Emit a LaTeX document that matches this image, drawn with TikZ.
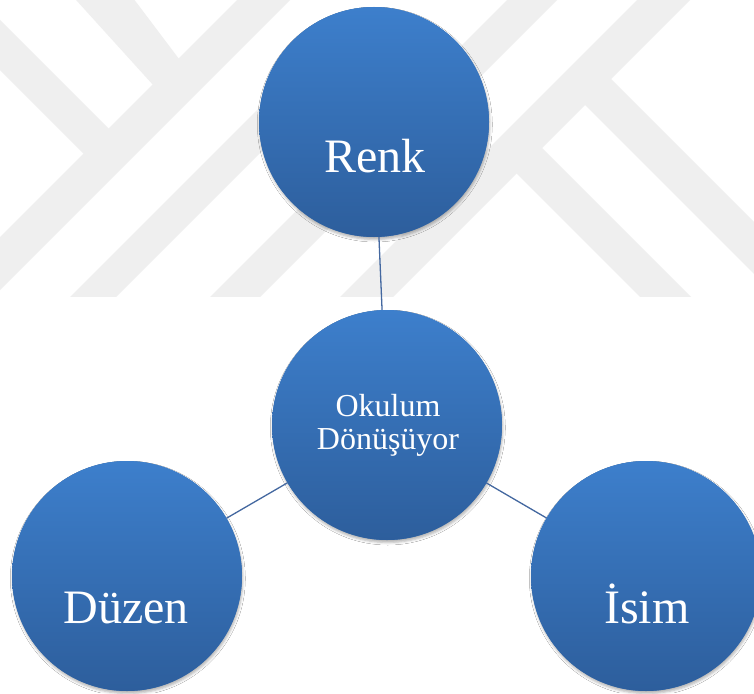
\documentclass[tikz,border=0pt]{standalone}
\usepackage{fontspec}
\setmainfont{Liberation Serif}
\usetikzlibrary{shadows.blur}
\definecolor{markgray}{HTML}{EFEFEF}
\definecolor{ballTop}{HTML}{3D7FCC}
\definecolor{ballBottom}{HTML}{2D5E9C}
\definecolor{linkcol}{HTML}{4468A0}
\begin{document}
\begin{tikzpicture}[x=1pt,y=-1pt,
  ball/.style={circle, minimum size=230pt, inner sep=0pt,
    fill=ballTop!50!ballBottom,
    top color=ballTop, bottom color=ballBottom, draw=none,
    blur shadow={shadow xshift=0.8pt, shadow yshift=-2.5pt,
      shadow blur radius=2.5pt, shadow opacity=30}},
  biglabel/.style={text=white, font=\fontsize{48}{58}\selectfont,
    anchor=base, inner sep=0pt},
  smalllabel/.style={text=white, font=\fontsize{32}{38}\selectfont,
    anchor=base, inner sep=0pt},
  link/.style={draw=linkcol, line width=1.3pt},
  band/.style={fill=markgray, draw=none}]
\useasboundingbox (0,0) rectangle (754,693);
\fill[white] (0,0) rectangle (754,693);

% light background emblem made of diagonal bands
\begin{scope}
  \clip (0,0) rectangle (754,296);
  \fill[band] (67,-10) -- (127,-10) -- (188.5,71.5) -- (163.5,96.5) -- cycle;
  \fill[band] (-10,10) -- (120,140) -- (95,165) -- (-10,60) -- cycle;
  \fill[band] (247,-10) -- (300,-10) -- (-10,300) -- (-10,247) -- cycle;
  \fill[band] (67,300) -- (113,300) -- (353,60) -- (307,60) -- cycle;
  \fill[band] (207,300) -- (257,300) -- (567,-10) -- (517,-10) -- cycle;
  \fill[band] (337,300) -- (390,300) -- (700,-10) -- (647,-10) -- cycle;
  \fill[band] (570,90) -- (596,64) -- (800,268) -- (800,320) -- cycle;
  \fill[band] (501.5,158.5) -- (527,133) -- (694,300) -- (643,300) -- cycle;
\end{scope}

% circles
\node[ball] (renk)  at (374,122) {};
\node[ball] (mid)   at (387,425) {};
\node[ball] (duzen) at (127,576) {};
\node[ball] (isim)  at (646,576) {};

% labels
\node[biglabel] (renkT)  at (375,172) {Renk};
\node[biglabel] (duzenT) at (126,623) {Düzen};
\node[biglabel] (isimT)  at (647,623) {İsim};
\node[smalllabel] (midT1) at (388,416) {Okulum};
\node[smalllabel] (midT2) at (388,449) {Dönüşüyor};

% connectors
\draw[link] (renk) -- (mid);
\draw[link] (mid) -- (duzen);
\draw[link] (mid) -- (isim);
\end{tikzpicture}
\end{document}
